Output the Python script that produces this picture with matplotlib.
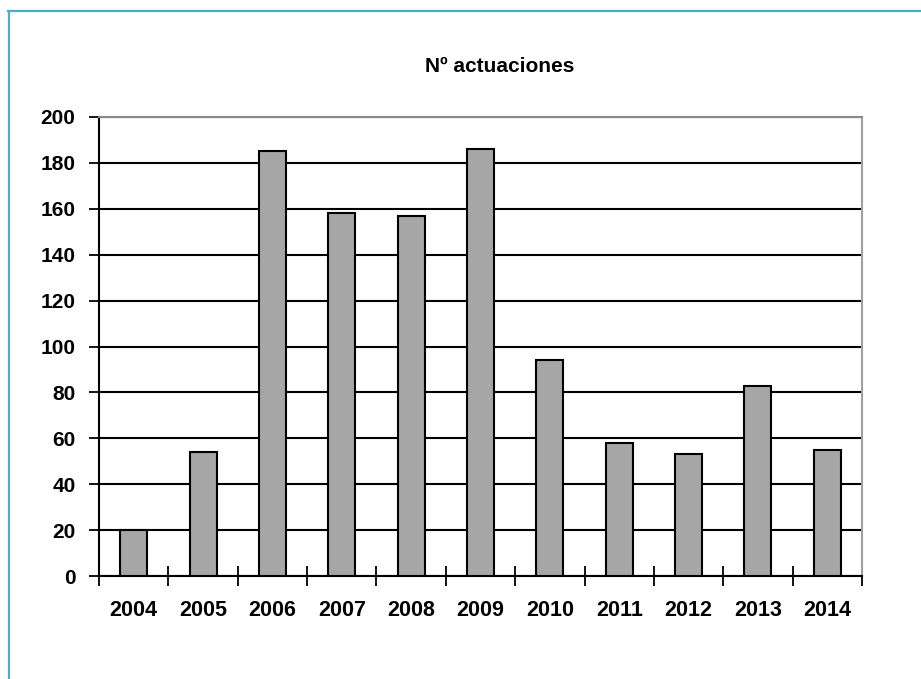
import matplotlib.pyplot as plt
from matplotlib.lines import Line2D

years = ['2004', '2005', '2006', '2007', '2008', '2009', '2010', '2011', '2012', '2013', '2014']
actuaciones = [20, 54, 185, 158, 157, 186, 94, 58, 53, 83, 55]
y_ticks = [0, 20, 40, 60, 80, 100, 120, 140, 160, 180, 200]

plt.rcParams['font.family'] = ['Liberation Sans', 'DejaVu Sans']

fig = plt.figure(figsize=(9.21, 6.79), dpi=100)
ax = fig.add_axes([99 / 921, 1 - 576 / 679, (862 - 99) / 921, (576 - 117) / 679])

x = list(range(len(years)))
ax.bar(x, actuaciones, width=0.39, color='#a6a6a6', edgecolor='black', linewidth=1.5, zorder=3)

# horizontal grid lines
ax.set_ylim(0, 200)
ax.set_yticks(y_ticks)
ax.yaxis.grid(True, color='black', linewidth=1.5, zorder=0)
ax.set_axisbelow(True)

# category boundaries carry the ticks, labels sit in between
ax.set_xlim(-0.5, len(years) - 0.5)
ax.set_xticks([i - 0.5 for i in range(len(years) + 1)])
ax.set_xticklabels([''] * (len(years) + 1))
ax.set_xticks(x, minor=True)
ax.set_xticklabels(years, minor=True, fontsize=15.5, fontweight='bold')
ax.tick_params(axis='x', which='minor', length=0, pad=17)
ax.tick_params(axis='x', which='major', direction='inout', length=14, width=1.3)
ax.tick_params(axis='y', direction='inout', length=14, width=1.3, pad=10)
for lbl in ax.get_yticklabels():
    lbl.set_fontsize(15)
    lbl.set_fontweight('bold')

ax.spines['left'].set_color('black')
ax.spines['left'].set_linewidth(1.5)
ax.spines['bottom'].set_color('black')
ax.spines['bottom'].set_linewidth(1.5)
ax.spines['top'].set_color('#888888')
ax.spines['top'].set_linewidth(1.5)
ax.spines['right'].set_color('#a0a0a0')
ax.spines['right'].set_linewidth(1.5)

fig.text(425 / 921, 1 - 66 / 679, 'Nº actuaciones', ha='left', va='center',
         fontsize=15, fontweight='bold')

# outer frame (top and left edges)
frame = '#4bacc6'
fig.add_artist(Line2D([8 / 921, 1], [1 - 10.5 / 679, 1 - 10.5 / 679], color=frame, linewidth=1.6))
fig.add_artist(Line2D([8.5 / 921, 8.5 / 921], [0, 1 - 10.5 / 679], color=frame, linewidth=1.6))

fig.savefig('out.png', dpi=100)
